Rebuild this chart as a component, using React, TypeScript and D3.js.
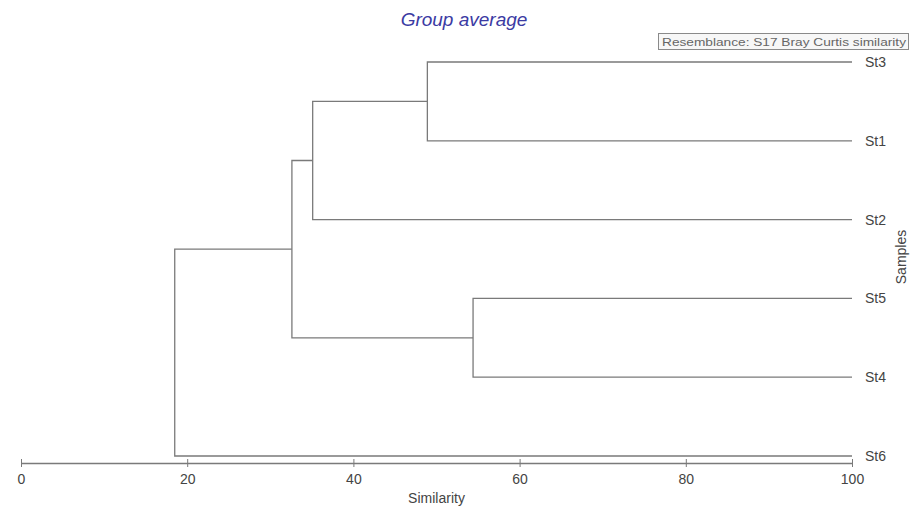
import { useEffect, useRef } from "react";
import * as d3 from "d3";

// leaves, top to bottom
const samples = ["St3", "St1", "St2", "St5", "St4", "St6"];

// merge steps of the group-average clustering
const mergeIds = ["C1", "C2", "C3", "C4", "C5"];
const mergeLeft = ["St3", "C1", "St5", "C2", "C4"];
const mergeRight = ["St1", "St2", "St4", "C3", "St6"];
const mergeSimilarity = [48.9, 35.1, 54.4, 32.6, 18.5];

const xTicks = [0, 20, 40, 60, 80, 100];

const title = "Group average";
const resemblance = "Resemblance: S17 Bray Curtis similarity";

export default function App() {
    const svgRef = useRef<SVGSVGElement | null>(null);

    useEffect(() => {
        if (!svgRef.current) return;
        const svg = d3.select(svgRef.current);
        svg.selectAll("*").remove();

        const font = "Arial, 'Liberation Sans', sans-serif";
        const lineColor = "#7a7a7a";
        const textColor = "#444";

        const x = d3.scaleLinear().domain([0, 100]).range([21, 852]);
        const y = d3.scalePoint<string>().domain(samples).range([62, 456]);

        // node positions
        const pos: Record<string, { x: number; y: number }> = {};
        samples.forEach(s => { pos[s] = { x: x(100), y: y(s) as number }; });

        const links: string[] = [];
        mergeIds.forEach((id, i) => {
            const l = pos[mergeLeft[i]];
            const r = pos[mergeRight[i]];
            const mx = x(mergeSimilarity[i]);
            pos[id] = { x: mx, y: (l.y + r.y) / 2 };
            const p = d3.path();
            p.moveTo(l.x, l.y);
            p.lineTo(mx, l.y);
            p.lineTo(mx, r.y);
            p.lineTo(r.x, r.y);
            links.push(p.toString());
        });

        svg.append("g")
            .selectAll("path")
            .data(links)
            .enter()
            .append("path")
            .attr("d", d => d)
            .attr("fill", "none")
            .attr("stroke", lineColor)
            .attr("stroke-width", 1.3);

        // leaf labels
        svg.append("g")
            .selectAll("text")
            .data(samples)
            .enter()
            .append("text")
            .attr("x", x(100) + 13)
            .attr("y", d => y(d) as number)
            .attr("dy", "0.35em")
            .attr("font-family", font)
            .attr("font-size", 14)
            .attr("fill", textColor)
            .text(d => d);

        // x axis
        const axisY = 463;
        const axis = svg.append("g")
            .attr("transform", `translate(0,${axisY})`)
            .call(d3.axisBottom(x).tickValues(xTicks).tickSize(4).tickSizeOuter(0).tickPadding(7).tickFormat(d3.format("d")));
        axis.select(".domain").attr("stroke", lineColor).attr("stroke-width", 1.3);
        axis.selectAll(".tick line").attr("stroke", lineColor).attr("y1", -4).attr("y2", 4);
        axis.selectAll(".tick text")
            .attr("font-family", font)
            .attr("font-size", 14)
            .attr("fill", textColor);

        svg.append("text")
            .attr("x", (x(0) + x(100)) / 2)
            .attr("y", 503)
            .attr("text-anchor", "middle")
            .attr("font-family", font)
            .attr("font-size", 14)
            .attr("fill", textColor)
            .text("Similarity");

        // y label on the right
        svg.append("text")
            .attr("transform", "translate(906,257) rotate(-90)")
            .attr("text-anchor", "middle")
            .attr("font-family", font)
            .attr("font-size", 14)
            .attr("fill", textColor)
            .text("Samples");

        // title
        svg.append("text")
            .attr("x", 464)
            .attr("y", 26)
            .attr("text-anchor", "middle")
            .attr("font-family", font)
            .attr("font-style", "italic")
            .attr("font-size", 19)
            .attr("fill", "#3b3ba3")
            .text(title);

        // resemblance box
        svg.append("rect")
            .attr("x", 658.5)
            .attr("y", 33.5)
            .attr("width", 250)
            .attr("height", 16)
            .attr("fill", "#f7f7f7")
            .attr("stroke", "#8a8a8a");

        svg.append("text")
            .attr("x", 662)
            .attr("y", 45.5)
            .attr("font-family", font)
            .attr("font-size", 11.5)
            .attr("fill", "#666")
            .attr("textLength", 244)
            .attr("lengthAdjust", "spacingAndGlyphs")
            .text(resemblance);
    }, []);

    return (
        <svg
            ref={svgRef}
            width={911}
            height={511}
            style={{ position: "absolute", left: 0, top: 0, background: "#fff" }}
        />
    );
}
